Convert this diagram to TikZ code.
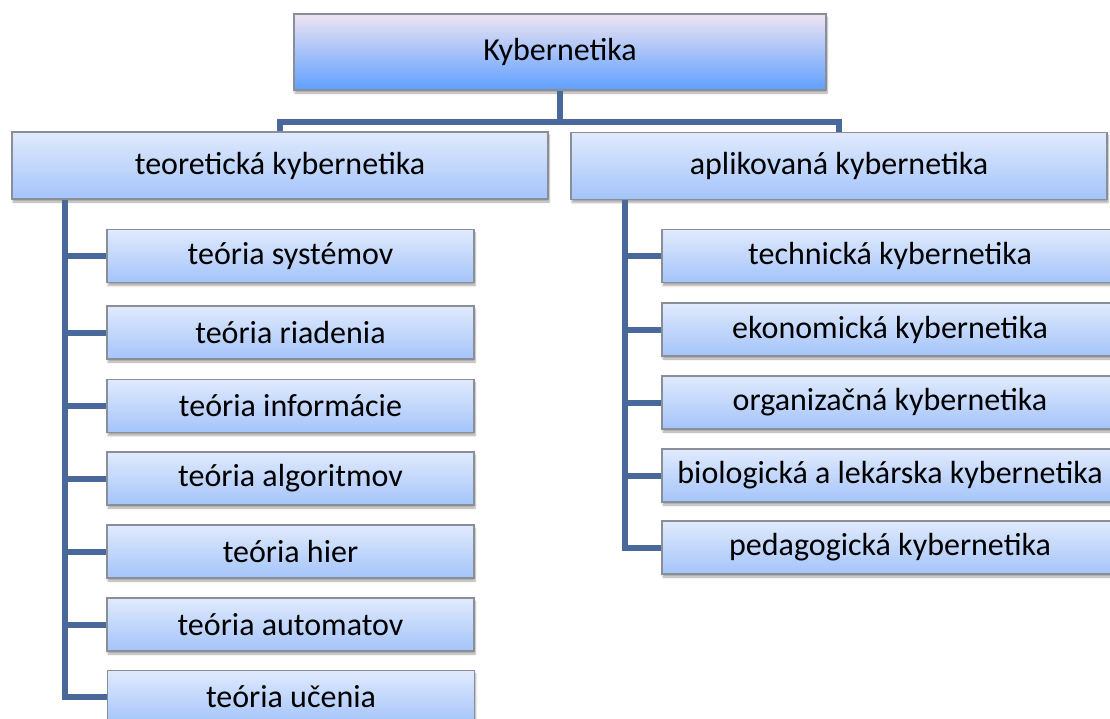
\documentclass[tikz,border=0pt]{standalone}
\usepackage{fontspec}
\setmainfont{Carlito}
\usetikzlibrary{shadows.blur}
\definecolor{conncol}{HTML}{48699A}
\definecolor{boxtop}{HTML}{E0EAFD}
\definecolor{boxbot}{HTML}{A4C4FA}
\definecolor{roottop}{HTML}{EEE4F2}
\definecolor{rootmid}{HTML}{84BEFE}
\definecolor{rootbot}{HTML}{5E9FFF}
\definecolor{bordcol}{HTML}{8A8E96}
\tikzset{
  basebox/.style={rectangle, draw=bordcol, line width=1.2pt, inner sep=0pt,
    font=\fontsize{32}{36}\selectfont, text=black,
    blur shadow={shadow xshift=1pt, shadow yshift=-3pt, shadow blur steps=6, shadow opacity=35}},
  rootbox/.style={basebox, top color=roottop, middle color=rootmid, bottom color=rootbot,
    minimum width=532pt, minimum height=76pt},
  mainbox/.style={basebox, top color=boxtop, bottom color=boxbot,
    minimum width=536pt, minimum height=67pt},
  leafl/.style={basebox, top color=boxtop, bottom color=boxbot,
    minimum width=367pt, minimum height=53pt},
  leafr/.style={basebox, top color=boxtop, bottom color=boxbot,
    minimum width=456pt, minimum height=53pt},
  conn/.style={draw=conncol, line width=6pt, line join=miter}
}
\begin{document}
\begin{tikzpicture}[x=1pt,y=-1pt]
\useasboundingbox (0,0) rectangle (1110,718);
\clip (0,0) rectangle (1110,718);
\coordinate (bus) at (560,122);
\coordinate (lspine) at (65,0);
\coordinate (rspine) at (625,0);
\node[rootbox] (root) at (560,52) {Kybernetika};
\node[mainbox] (teo) at (280,165.5) {teoretická kybernetika};
\node[mainbox] (apl) at (839,166) {aplikovaná kybernetika};
\path (teo.south -| lspine) coordinate (lstart);
\path (apl.south -| rspine) coordinate (rstart);
% left leaves
\node[leafl] (t1) at (290.5,256) {teória systémov};
\node[leafl] (t2) at (290.5,332.5) {teória riadenia};
\node[leafl] (t3) at (290.5,406) {teória informácie};
\node[leafl] (t4) at (290.5,478.5) {teória algoritmov};
\node[leafl] (t5) at (290.5,551.5) {teória hier};
\node[leafl] (t6) at (290.5,624.5) {teória automatov};
\node[leafl] (t7) at (291,697) {teória učenia};
% right leaves
\node[leafr] (a1) at (890,256) {technická kybernetika};
\node[leafr] (a2) at (890,329.5) {ekonomická kybernetika};
\node[leafr] (a3) at (890,402.5) {organizačná kybernetika};
\node[leafr] (a4) at (890,475.5) {biologická a lekárska kybernetika};
\node[leafr] (a5) at (890,547.5) {pedagogická kybernetika};
% connectors
\draw[conn] (root.south) -- (bus);
\draw[conn] (teo.north) |- (bus) -| (apl.north);
\draw[conn] (lstart) |- (t7.west);
\foreach \n in {t1,t2,t3,t4,t5,t6} \draw[conn] (\n.west -| lspine) -- (\n.west);
\draw[conn] (rstart) |- (a5.west);
\foreach \n in {a1,a2,a3,a4} \draw[conn] (\n.west -| rspine) -- (\n.west);
\end{tikzpicture}
\end{document}
